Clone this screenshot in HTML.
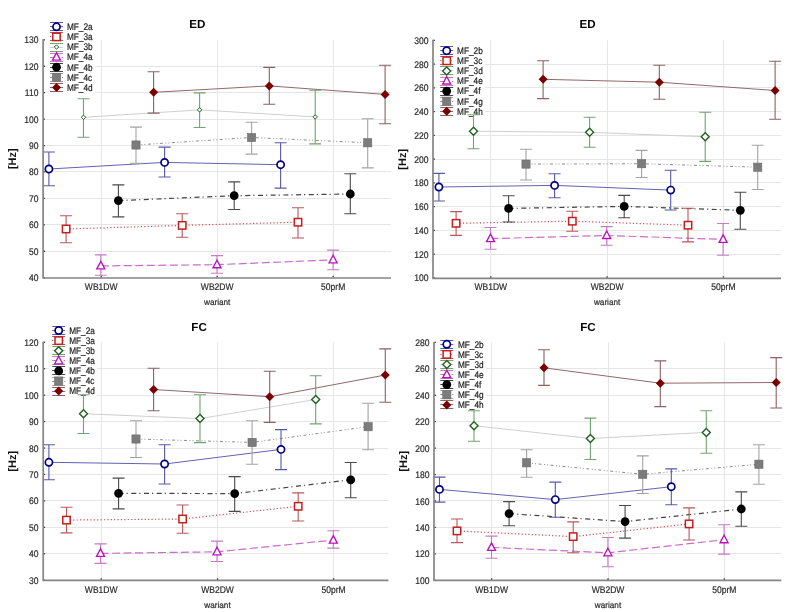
<!DOCTYPE html>
<html><head><meta charset="utf-8"><title>chart</title>
<style>html,body{margin:0;padding:0;background:#fff;}svg{display:block;will-change:transform;}text{font-family:"Liberation Sans", sans-serif;text-rendering:geometricPrecision;}</style>
</head><body>
<svg width="800" height="612" viewBox="0 0 800 612" font-family='"Liberation Sans", sans-serif'>
<rect width="800" height="612" fill="#fff"/>
<line x1="43" y1="251.50" x2="391" y2="251.50" stroke="#e6e6e6" stroke-width="1"/>
<line x1="43" y1="224.50" x2="391" y2="224.50" stroke="#e6e6e6" stroke-width="1"/>
<line x1="43" y1="198.50" x2="391" y2="198.50" stroke="#e6e6e6" stroke-width="1"/>
<line x1="43" y1="171.50" x2="391" y2="171.50" stroke="#e6e6e6" stroke-width="1"/>
<line x1="43" y1="145.50" x2="391" y2="145.50" stroke="#e6e6e6" stroke-width="1"/>
<line x1="43" y1="119.50" x2="391" y2="119.50" stroke="#e6e6e6" stroke-width="1"/>
<line x1="43" y1="92.50" x2="391" y2="92.50" stroke="#e6e6e6" stroke-width="1"/>
<line x1="43" y1="66.50" x2="391" y2="66.50" stroke="#e6e6e6" stroke-width="1"/>
<line x1="101.5" y1="39.8" x2="101.5" y2="277.7" stroke="#e6e6e6" stroke-width="1"/>
<line x1="217.5" y1="39.8" x2="217.5" y2="277.7" stroke="#e6e6e6" stroke-width="1"/>
<line x1="333.5" y1="39.8" x2="333.5" y2="277.7" stroke="#e6e6e6" stroke-width="1"/>
<text transform="translate(38.40 281.20) scale(0.89 1)" text-anchor="end" font-size="9.6" fill="#2e2e2e" stroke="#2e2e2e" stroke-width="0.22">40</text>
<line x1="43.1" y1="277.70" x2="45.0" y2="277.70" stroke="#3c3c3c" stroke-width="1.3"/>
<text transform="translate(38.40 254.77) scale(0.89 1)" text-anchor="end" font-size="9.6" fill="#2e2e2e" stroke="#2e2e2e" stroke-width="0.22">50</text>
<line x1="43.1" y1="251.27" x2="45.0" y2="251.27" stroke="#3c3c3c" stroke-width="1.3"/>
<text transform="translate(38.40 228.33) scale(0.89 1)" text-anchor="end" font-size="9.6" fill="#2e2e2e" stroke="#2e2e2e" stroke-width="0.22">60</text>
<line x1="43.1" y1="224.83" x2="45.0" y2="224.83" stroke="#3c3c3c" stroke-width="1.3"/>
<text transform="translate(38.40 201.90) scale(0.89 1)" text-anchor="end" font-size="9.6" fill="#2e2e2e" stroke="#2e2e2e" stroke-width="0.22">70</text>
<line x1="43.1" y1="198.40" x2="45.0" y2="198.40" stroke="#3c3c3c" stroke-width="1.3"/>
<text transform="translate(38.40 175.47) scale(0.89 1)" text-anchor="end" font-size="9.6" fill="#2e2e2e" stroke="#2e2e2e" stroke-width="0.22">80</text>
<line x1="43.1" y1="171.97" x2="45.0" y2="171.97" stroke="#3c3c3c" stroke-width="1.3"/>
<text transform="translate(38.40 149.03) scale(0.89 1)" text-anchor="end" font-size="9.6" fill="#2e2e2e" stroke="#2e2e2e" stroke-width="0.22">90</text>
<line x1="43.1" y1="145.53" x2="45.0" y2="145.53" stroke="#3c3c3c" stroke-width="1.3"/>
<text transform="translate(38.40 122.60) scale(0.89 1)" text-anchor="end" font-size="9.6" fill="#2e2e2e" stroke="#2e2e2e" stroke-width="0.22">100</text>
<line x1="43.1" y1="119.10" x2="45.0" y2="119.10" stroke="#3c3c3c" stroke-width="1.3"/>
<text transform="translate(38.40 96.17) scale(0.89 1)" text-anchor="end" font-size="9.6" fill="#2e2e2e" stroke="#2e2e2e" stroke-width="0.22">110</text>
<line x1="43.1" y1="92.67" x2="45.0" y2="92.67" stroke="#3c3c3c" stroke-width="1.3"/>
<text transform="translate(38.40 69.73) scale(0.89 1)" text-anchor="end" font-size="9.6" fill="#2e2e2e" stroke="#2e2e2e" stroke-width="0.22">120</text>
<line x1="43.1" y1="66.23" x2="45.0" y2="66.23" stroke="#3c3c3c" stroke-width="1.3"/>
<text transform="translate(38.40 43.30) scale(0.89 1)" text-anchor="end" font-size="9.6" fill="#2e2e2e" stroke="#2e2e2e" stroke-width="0.22">130</text>
<line x1="43.1" y1="39.80" x2="45.0" y2="39.80" stroke="#3c3c3c" stroke-width="1.3"/>
<text transform="translate(101.20 290.30) scale(0.89 1)" text-anchor="middle" font-size="9.6" fill="#2e2e2e" stroke="#2e2e2e" stroke-width="0.22">WB1DW</text>
<line x1="101.2" y1="277.5" x2="101.2" y2="275.8" stroke="#3c3c3c" stroke-width="1.3"/>
<text transform="translate(217.20 290.30) scale(0.89 1)" text-anchor="middle" font-size="9.6" fill="#2e2e2e" stroke="#2e2e2e" stroke-width="0.22">WB2DW</text>
<line x1="217.2" y1="277.5" x2="217.2" y2="275.8" stroke="#3c3c3c" stroke-width="1.3"/>
<text transform="translate(333.20 290.30) scale(0.89 1)" text-anchor="middle" font-size="9.6" fill="#2e2e2e" stroke="#2e2e2e" stroke-width="0.22">50prM</text>
<line x1="333.2" y1="277.5" x2="333.2" y2="275.8" stroke="#3c3c3c" stroke-width="1.3"/>
<text transform="translate(217.20 305.10) scale(0.95 1)" text-anchor="middle" font-size="8.6" fill="#2e2e2e" stroke="#2e2e2e" stroke-width="0.22">wariant</text>
<text transform="translate(16.2,158.7) rotate(-90)" text-anchor="middle" font-size="11" font-weight="bold" fill="#111">[Hz]</text>
<text x="197.4" y="27.7" text-anchor="middle" font-size="11.6" font-weight="bold" fill="#000">ED</text>
<rect x="46.5" y="21.3" width="48.6" height="71.6" fill="#fff"/>
<path d="M50.0 22.5H63.0M50.0 30.5H63.0" stroke="#5858a8" stroke-width="1" fill="none"/>
<path d="M50.0 26.5H63.0" stroke="#6262b4" stroke-width="1" fill="none"/>
<circle cx="56.5" cy="26.8" r="3.6" fill="#fff" stroke="#000080" stroke-width="1.7"/>
<text transform="translate(66.90 30.10) scale(0.86 1)" font-size="9.6" fill="#242424" stroke="#242424" stroke-width="0.22">MF_2a</text>
<path d="M50.0 32.5H63.0M50.0 40.5H63.0" stroke="#b85858" stroke-width="1" fill="none"/>
<path d="M50.0 36.5H63.0" stroke="#c85050" stroke-width="1" fill="none" stroke-dasharray="1.2 2.2"/>
<rect x="52.8" y="33.2" width="7.4" height="7.4" fill="#fff" stroke="#c41e1e" stroke-width="1.5"/>
<text transform="translate(66.90 40.20) scale(0.86 1)" font-size="9.6" fill="#242424" stroke="#242424" stroke-width="0.22">MF_3a</text>
<path d="M50.0 43.5H63.0M50.0 51.5H63.0" stroke="#72a472" stroke-width="1" fill="none"/>
<path d="M50.0 47.5H63.0" stroke="#cfcfcf" stroke-width="1" fill="none"/>
<path d="M56.5 44.8L58.7 47.0L56.5 49.2L54.3 47.0Z" fill="#fff" stroke="#1f621f" stroke-width="1.0"/>
<text transform="translate(66.90 50.30) scale(0.86 1)" font-size="9.6" fill="#242424" stroke="#242424" stroke-width="0.22">MF_3b</text>
<path d="M50.0 53.5H63.0M50.0 61.5H63.0" stroke="#c47cc4" stroke-width="1" fill="none"/>
<path d="M50.0 57.5H63.0" stroke="#c86ec8" stroke-width="1" fill="none" stroke-dasharray="8 3.5"/>
<path d="M56.5 52.6L60.5 60.1L52.5 60.1Z" fill="#fff" stroke="#b810b8" stroke-width="1.35" stroke-linejoin="miter"/>
<text transform="translate(66.90 60.40) scale(0.86 1)" font-size="9.6" fill="#242424" stroke="#242424" stroke-width="0.22">MF_4a</text>
<path d="M50.0 63.5H63.0M50.0 71.5H63.0" stroke="#4a4a4a" stroke-width="1" fill="none"/>
<path d="M50.0 67.5H63.0" stroke="#444444" stroke-width="1" fill="none" stroke-dasharray="5 3 1.2 3.5"/>
<circle cx="56.5" cy="67.2" r="4.4" fill="#000000"/>
<text transform="translate(66.90 70.50) scale(0.86 1)" font-size="9.6" fill="#242424" stroke="#242424" stroke-width="0.22">MF_4b</text>
<path d="M50.0 73.5H63.0M50.0 81.5H63.0" stroke="#a4a4a4" stroke-width="1" fill="none"/>
<path d="M50.0 77.5H63.0" stroke="#8c8c8c" stroke-width="1" fill="none" stroke-dasharray="3 2.5 1 2 1 2.5"/>
<rect x="52.4" y="73.2" width="8.2" height="8.2" fill="#7c7c7c" stroke="#6a6a6a" stroke-width="0.6"/>
<text transform="translate(66.90 80.60) scale(0.86 1)" font-size="9.6" fill="#242424" stroke="#242424" stroke-width="0.22">MF_4c</text>
<path d="M50.0 83.5H63.0M50.0 91.5H63.0" stroke="#8c6264" stroke-width="1" fill="none"/>
<path d="M50.0 87.5H63.0" stroke="#93686b" stroke-width="1" fill="none"/>
<path d="M56.5 82.9L61.0 87.4L56.5 91.9L52.0 87.4Z" fill="#7a0000"/>
<text transform="translate(66.90 90.70) scale(0.86 1)" font-size="9.6" fill="#242424" stroke="#242424" stroke-width="0.22">MF_4d</text>
<path d="M48.9 169.0L164.6 162.4L280.6 164.7" fill="none" stroke="#6262b4" stroke-width="1.0"/>
<path d="M66.1 229.0L182.2 225.4L298.0 222.2" fill="none" stroke="#c85050" stroke-width="1.2" stroke-dasharray="1.2 2.2"/>
<path d="M83.5 117.3L199.6 109.9L315.2 116.9" fill="none" stroke="#cfcfcf" stroke-width="1.0"/>
<path d="M100.8 265.9L217.0 264.7L333.1 259.8" fill="none" stroke="#c86ec8" stroke-width="1.2" stroke-dasharray="8 3.5"/>
<path d="M118.4 200.6L234.2 195.7L350.3 194.0" fill="none" stroke="#444444" stroke-width="1.2" stroke-dasharray="5 3 1.2 3.5"/>
<path d="M136.0 145.0L251.6 137.5L367.7 142.8" fill="none" stroke="#8c8c8c" stroke-width="1.0" stroke-dasharray="3 2.5 1 2 1 2.5"/>
<path d="M153.6 92.3L269.3 85.9L385.1 94.4" fill="none" stroke="#93686b" stroke-width="1.0"/>
<path d="M48.9 152.0L48.9 185.7M42.9 152.0L54.9 152.0M42.9 185.7L54.9 185.7" stroke="#5858a8" stroke-width="1.1" fill="none"/>
<path d="M164.6 147.1L164.6 177.0M158.6 147.1L170.6 147.1M158.6 177.0L170.6 177.0" stroke="#5858a8" stroke-width="1.1" fill="none"/>
<path d="M280.6 142.8L280.6 188.1M274.6 142.8L286.6 142.8M274.6 188.1L286.6 188.1" stroke="#5858a8" stroke-width="1.1" fill="none"/>
<path d="M66.1 215.7L66.1 242.7M60.1 215.7L72.1 215.7M60.1 242.7L72.1 242.7" stroke="#b85858" stroke-width="1.1" fill="none"/>
<path d="M182.2 213.7L182.2 237.3M176.2 213.7L188.2 213.7M176.2 237.3L188.2 237.3" stroke="#b85858" stroke-width="1.1" fill="none"/>
<path d="M298.0 207.8L298.0 238.0M292.0 207.8L304.0 207.8M292.0 238.0L304.0 238.0" stroke="#b85858" stroke-width="1.1" fill="none"/>
<path d="M83.5 98.7L83.5 137.3M77.5 98.7L89.5 98.7M77.5 137.3L89.5 137.3" stroke="#72a472" stroke-width="1.1" fill="none"/>
<path d="M199.6 92.9L199.6 127.5M193.6 92.9L205.6 92.9M193.6 127.5L205.6 127.5" stroke="#72a472" stroke-width="1.1" fill="none"/>
<path d="M315.2 90.2L315.2 143.9M309.2 90.2L321.2 90.2M309.2 143.9L321.2 143.9" stroke="#72a472" stroke-width="1.1" fill="none"/>
<path d="M100.8 254.9L100.8 275.3M94.8 254.9L106.8 254.9M94.8 275.3L106.8 275.3" stroke="#c47cc4" stroke-width="1.1" fill="none"/>
<path d="M217.0 255.6L217.0 273.2M211.0 255.6L223.0 255.6M211.0 273.2L223.0 273.2" stroke="#c47cc4" stroke-width="1.1" fill="none"/>
<path d="M333.1 250.1L333.1 269.8M327.1 250.1L339.1 250.1M327.1 269.8L339.1 269.8" stroke="#c47cc4" stroke-width="1.1" fill="none"/>
<path d="M118.4 184.9L118.4 216.9M112.4 184.9L124.4 184.9M112.4 216.9L124.4 216.9" stroke="#4a4a4a" stroke-width="1.1" fill="none"/>
<path d="M234.2 181.9L234.2 209.5M228.2 181.9L240.2 181.9M228.2 209.5L240.2 209.5" stroke="#4a4a4a" stroke-width="1.1" fill="none"/>
<path d="M350.3 173.8L350.3 213.7M344.3 173.8L356.3 173.8M344.3 213.7L356.3 213.7" stroke="#4a4a4a" stroke-width="1.1" fill="none"/>
<path d="M136.0 127.1L136.0 163.2M130.0 127.1L142.0 127.1M130.0 163.2L142.0 163.2" stroke="#a4a4a4" stroke-width="1.1" fill="none"/>
<path d="M251.6 122.2L251.6 154.1M245.6 122.2L257.6 122.2M245.6 154.1L257.6 154.1" stroke="#a4a4a4" stroke-width="1.1" fill="none"/>
<path d="M367.7 118.8L367.7 167.9M361.7 118.8L373.7 118.8M361.7 167.9L373.7 167.9" stroke="#a4a4a4" stroke-width="1.1" fill="none"/>
<path d="M153.6 71.7L153.6 113.1M147.6 71.7L159.6 71.7M147.6 113.1L159.6 113.1" stroke="#8c6264" stroke-width="1.1" fill="none"/>
<path d="M269.3 67.4L269.3 104.2M263.3 67.4L275.3 67.4M263.3 104.2L275.3 104.2" stroke="#8c6264" stroke-width="1.1" fill="none"/>
<path d="M385.1 65.3L385.1 123.7M379.1 65.3L391.1 65.3M379.1 123.7L391.1 123.7" stroke="#8c6264" stroke-width="1.1" fill="none"/>
<circle cx="48.9" cy="169.0" r="3.6" fill="#fff" stroke="#000080" stroke-width="1.7"/>
<circle cx="164.6" cy="162.4" r="3.6" fill="#fff" stroke="#000080" stroke-width="1.7"/>
<circle cx="280.6" cy="164.7" r="3.6" fill="#fff" stroke="#000080" stroke-width="1.7"/>
<rect x="62.4" y="225.3" width="7.4" height="7.4" fill="#fff" stroke="#c41e1e" stroke-width="1.5"/>
<rect x="178.5" y="221.7" width="7.4" height="7.4" fill="#fff" stroke="#c41e1e" stroke-width="1.5"/>
<rect x="294.3" y="218.5" width="7.4" height="7.4" fill="#fff" stroke="#c41e1e" stroke-width="1.5"/>
<path d="M83.5 115.1L85.7 117.3L83.5 119.5L81.3 117.3Z" fill="#fff" stroke="#1f621f" stroke-width="1.0"/>
<path d="M199.6 107.7L201.8 109.9L199.6 112.1L197.4 109.9Z" fill="#fff" stroke="#1f621f" stroke-width="1.0"/>
<path d="M315.2 114.7L317.4 116.9L315.2 119.1L313.0 116.9Z" fill="#fff" stroke="#1f621f" stroke-width="1.0"/>
<path d="M100.8 261.4L104.8 268.9L96.8 268.9Z" fill="#fff" stroke="#b810b8" stroke-width="1.35" stroke-linejoin="miter"/>
<path d="M217.0 260.2L221.0 267.7L213.0 267.7Z" fill="#fff" stroke="#b810b8" stroke-width="1.35" stroke-linejoin="miter"/>
<path d="M333.1 255.3L337.1 262.8L329.1 262.8Z" fill="#fff" stroke="#b810b8" stroke-width="1.35" stroke-linejoin="miter"/>
<circle cx="118.4" cy="200.6" r="4.4" fill="#000000"/>
<circle cx="234.2" cy="195.7" r="4.4" fill="#000000"/>
<circle cx="350.3" cy="194.0" r="4.4" fill="#000000"/>
<rect x="131.9" y="140.9" width="8.2" height="8.2" fill="#7c7c7c" stroke="#6a6a6a" stroke-width="0.6"/>
<rect x="247.5" y="133.4" width="8.2" height="8.2" fill="#7c7c7c" stroke="#6a6a6a" stroke-width="0.6"/>
<rect x="363.6" y="138.7" width="8.2" height="8.2" fill="#7c7c7c" stroke="#6a6a6a" stroke-width="0.6"/>
<path d="M153.6 87.8L158.1 92.3L153.6 96.8L149.1 92.3Z" fill="#7a0000"/>
<path d="M269.3 81.4L273.8 85.9L269.3 90.4L264.8 85.9Z" fill="#7a0000"/>
<path d="M385.1 89.9L389.6 94.4L385.1 98.9L380.6 94.4Z" fill="#7a0000"/>
<path d="M43.1 39.3L43.1 278.0L391 278.0" fill="none" stroke="#858585" stroke-width="1.7"/>
<line x1="433" y1="254.50" x2="781" y2="254.50" stroke="#e6e6e6" stroke-width="1"/>
<line x1="433" y1="230.50" x2="781" y2="230.50" stroke="#e6e6e6" stroke-width="1"/>
<line x1="433" y1="206.50" x2="781" y2="206.50" stroke="#e6e6e6" stroke-width="1"/>
<line x1="433" y1="182.50" x2="781" y2="182.50" stroke="#e6e6e6" stroke-width="1"/>
<line x1="433" y1="159.50" x2="781" y2="159.50" stroke="#e6e6e6" stroke-width="1"/>
<line x1="433" y1="135.50" x2="781" y2="135.50" stroke="#e6e6e6" stroke-width="1"/>
<line x1="433" y1="111.50" x2="781" y2="111.50" stroke="#e6e6e6" stroke-width="1"/>
<line x1="433" y1="87.50" x2="781" y2="87.50" stroke="#e6e6e6" stroke-width="1"/>
<line x1="433" y1="64.50" x2="781" y2="64.50" stroke="#e6e6e6" stroke-width="1"/>
<line x1="490.5" y1="40.3" x2="490.5" y2="277.8" stroke="#e6e6e6" stroke-width="1"/>
<line x1="607.5" y1="40.3" x2="607.5" y2="277.8" stroke="#e6e6e6" stroke-width="1"/>
<line x1="723.5" y1="40.3" x2="723.5" y2="277.8" stroke="#e6e6e6" stroke-width="1"/>
<text transform="translate(428.40 281.30) scale(0.89 1)" text-anchor="end" font-size="9.6" fill="#2e2e2e" stroke="#2e2e2e" stroke-width="0.22">100</text>
<line x1="433" y1="277.80" x2="434.9" y2="277.80" stroke="#3c3c3c" stroke-width="1.3"/>
<text transform="translate(428.40 257.55) scale(0.89 1)" text-anchor="end" font-size="9.6" fill="#2e2e2e" stroke="#2e2e2e" stroke-width="0.22">120</text>
<line x1="433" y1="254.05" x2="434.9" y2="254.05" stroke="#3c3c3c" stroke-width="1.3"/>
<text transform="translate(428.40 233.80) scale(0.89 1)" text-anchor="end" font-size="9.6" fill="#2e2e2e" stroke="#2e2e2e" stroke-width="0.22">140</text>
<line x1="433" y1="230.30" x2="434.9" y2="230.30" stroke="#3c3c3c" stroke-width="1.3"/>
<text transform="translate(428.40 210.05) scale(0.89 1)" text-anchor="end" font-size="9.6" fill="#2e2e2e" stroke="#2e2e2e" stroke-width="0.22">160</text>
<line x1="433" y1="206.55" x2="434.9" y2="206.55" stroke="#3c3c3c" stroke-width="1.3"/>
<text transform="translate(428.40 186.30) scale(0.89 1)" text-anchor="end" font-size="9.6" fill="#2e2e2e" stroke="#2e2e2e" stroke-width="0.22">180</text>
<line x1="433" y1="182.80" x2="434.9" y2="182.80" stroke="#3c3c3c" stroke-width="1.3"/>
<text transform="translate(428.40 162.55) scale(0.89 1)" text-anchor="end" font-size="9.6" fill="#2e2e2e" stroke="#2e2e2e" stroke-width="0.22">200</text>
<line x1="433" y1="159.05" x2="434.9" y2="159.05" stroke="#3c3c3c" stroke-width="1.3"/>
<text transform="translate(428.40 138.80) scale(0.89 1)" text-anchor="end" font-size="9.6" fill="#2e2e2e" stroke="#2e2e2e" stroke-width="0.22">220</text>
<line x1="433" y1="135.30" x2="434.9" y2="135.30" stroke="#3c3c3c" stroke-width="1.3"/>
<text transform="translate(428.40 115.05) scale(0.89 1)" text-anchor="end" font-size="9.6" fill="#2e2e2e" stroke="#2e2e2e" stroke-width="0.22">240</text>
<line x1="433" y1="111.55" x2="434.9" y2="111.55" stroke="#3c3c3c" stroke-width="1.3"/>
<text transform="translate(428.40 91.30) scale(0.89 1)" text-anchor="end" font-size="9.6" fill="#2e2e2e" stroke="#2e2e2e" stroke-width="0.22">260</text>
<line x1="433" y1="87.80" x2="434.9" y2="87.80" stroke="#3c3c3c" stroke-width="1.3"/>
<text transform="translate(428.40 67.55) scale(0.89 1)" text-anchor="end" font-size="9.6" fill="#2e2e2e" stroke="#2e2e2e" stroke-width="0.22">280</text>
<line x1="433" y1="64.05" x2="434.9" y2="64.05" stroke="#3c3c3c" stroke-width="1.3"/>
<text transform="translate(428.40 43.80) scale(0.89 1)" text-anchor="end" font-size="9.6" fill="#2e2e2e" stroke="#2e2e2e" stroke-width="0.22">300</text>
<line x1="433" y1="40.30" x2="434.9" y2="40.30" stroke="#3c3c3c" stroke-width="1.3"/>
<text transform="translate(490.80 290.40) scale(0.89 1)" text-anchor="middle" font-size="9.6" fill="#2e2e2e" stroke="#2e2e2e" stroke-width="0.22">WB1DW</text>
<line x1="490.8" y1="277.9" x2="490.8" y2="276.2" stroke="#3c3c3c" stroke-width="1.3"/>
<text transform="translate(607.10 290.40) scale(0.89 1)" text-anchor="middle" font-size="9.6" fill="#2e2e2e" stroke="#2e2e2e" stroke-width="0.22">WB2DW</text>
<line x1="607.1" y1="277.9" x2="607.1" y2="276.2" stroke="#3c3c3c" stroke-width="1.3"/>
<text transform="translate(723.40 290.40) scale(0.89 1)" text-anchor="middle" font-size="9.6" fill="#2e2e2e" stroke="#2e2e2e" stroke-width="0.22">50prM</text>
<line x1="723.4" y1="277.9" x2="723.4" y2="276.2" stroke="#3c3c3c" stroke-width="1.3"/>
<text transform="translate(607.10 305.20) scale(0.95 1)" text-anchor="middle" font-size="8.6" fill="#2e2e2e" stroke="#2e2e2e" stroke-width="0.22">wariant</text>
<text transform="translate(405.8,159.3) rotate(-90)" text-anchor="middle" font-size="11" font-weight="bold" fill="#111">[Hz]</text>
<text x="587.6" y="27.7" text-anchor="middle" font-size="11.6" font-weight="bold" fill="#000">ED</text>
<rect x="436.7" y="45.2" width="48.6" height="71.6" fill="#fff"/>
<path d="M440.2 46.5H453.2M440.2 54.5H453.2" stroke="#5858a8" stroke-width="1" fill="none"/>
<path d="M440.2 50.5H453.2" stroke="#6262b4" stroke-width="1" fill="none"/>
<circle cx="446.7" cy="50.7" r="3.6" fill="#fff" stroke="#000080" stroke-width="1.7"/>
<text transform="translate(457.10 54.00) scale(0.86 1)" font-size="9.6" fill="#242424" stroke="#242424" stroke-width="0.22">MF_2b</text>
<path d="M440.2 56.5H453.2M440.2 64.5H453.2" stroke="#b85858" stroke-width="1" fill="none"/>
<path d="M440.2 60.5H453.2" stroke="#c85050" stroke-width="1" fill="none" stroke-dasharray="1.2 2.2"/>
<rect x="443.0" y="57.1" width="7.4" height="7.4" fill="#fff" stroke="#c41e1e" stroke-width="1.5"/>
<text transform="translate(457.10 64.10) scale(0.86 1)" font-size="9.6" fill="#242424" stroke="#242424" stroke-width="0.22">MF_3c</text>
<path d="M440.2 66.5H453.2M440.2 74.5H453.2" stroke="#72a472" stroke-width="1" fill="none"/>
<path d="M440.2 70.5H453.2" stroke="#cfcfcf" stroke-width="1" fill="none"/>
<path d="M446.7 66.9L450.7 70.9L446.7 74.9L442.7 70.9Z" fill="#fff" stroke="#1f621f" stroke-width="1.4"/>
<text transform="translate(457.10 74.20) scale(0.86 1)" font-size="9.6" fill="#242424" stroke="#242424" stroke-width="0.22">MF_3d</text>
<path d="M440.2 77.5H453.2M440.2 85.5H453.2" stroke="#c47cc4" stroke-width="1" fill="none"/>
<path d="M440.2 81.5H453.2" stroke="#c86ec8" stroke-width="1" fill="none" stroke-dasharray="8 3.5"/>
<path d="M446.7 76.5L450.7 84.0L442.7 84.0Z" fill="#fff" stroke="#b810b8" stroke-width="1.35" stroke-linejoin="miter"/>
<text transform="translate(457.10 84.30) scale(0.86 1)" font-size="9.6" fill="#242424" stroke="#242424" stroke-width="0.22">MF_4e</text>
<path d="M440.2 87.5H453.2M440.2 95.5H453.2" stroke="#4a4a4a" stroke-width="1" fill="none"/>
<path d="M440.2 91.5H453.2" stroke="#444444" stroke-width="1" fill="none" stroke-dasharray="5 3 1.2 3.5"/>
<circle cx="446.7" cy="91.1" r="4.4" fill="#000000"/>
<text transform="translate(457.10 94.40) scale(0.86 1)" font-size="9.6" fill="#242424" stroke="#242424" stroke-width="0.22">MF_4f</text>
<path d="M440.2 97.5H453.2M440.2 105.5H453.2" stroke="#a4a4a4" stroke-width="1" fill="none"/>
<path d="M440.2 101.5H453.2" stroke="#8c8c8c" stroke-width="1" fill="none" stroke-dasharray="3 2.5 1 2 1 2.5"/>
<rect x="442.6" y="97.1" width="8.2" height="8.2" fill="#7c7c7c" stroke="#6a6a6a" stroke-width="0.6"/>
<text transform="translate(457.10 104.50) scale(0.86 1)" font-size="9.6" fill="#242424" stroke="#242424" stroke-width="0.22">MF_4g</text>
<path d="M440.2 107.5H453.2M440.2 115.5H453.2" stroke="#8c6264" stroke-width="1" fill="none"/>
<path d="M440.2 111.5H453.2" stroke="#93686b" stroke-width="1" fill="none"/>
<path d="M446.7 106.8L451.2 111.3L446.7 115.8L442.2 111.3Z" fill="#7a0000"/>
<text transform="translate(457.10 114.60) scale(0.86 1)" font-size="9.6" fill="#242424" stroke="#242424" stroke-width="0.22">MF_4h</text>
<path d="M438.9 187.0L554.6 185.4L670.7 190.1" fill="none" stroke="#6262b4" stroke-width="1.0"/>
<path d="M456.1 223.3L572.3 221.2L688.0 225.2" fill="none" stroke="#c85050" stroke-width="1.2" stroke-dasharray="1.2 2.2"/>
<path d="M473.5 131.2L589.6 132.3L705.2 136.8" fill="none" stroke="#cfcfcf" stroke-width="1.0"/>
<path d="M490.5 238.6L606.7 235.5L723.1 239.4" fill="none" stroke="#c86ec8" stroke-width="1.2" stroke-dasharray="8 3.5"/>
<path d="M508.6 208.4L624.2 206.4L740.3 210.3" fill="none" stroke="#444444" stroke-width="1.2" stroke-dasharray="5 3 1.2 3.5"/>
<path d="M526.0 164.1L641.6 163.7L757.7 167.2" fill="none" stroke="#8c8c8c" stroke-width="1.0" stroke-dasharray="3 2.5 1 2 1 2.5"/>
<path d="M543.1 79.3L659.3 82.2L775.1 90.5" fill="none" stroke="#93686b" stroke-width="1.0"/>
<path d="M438.9 173.4L438.9 201.0M432.9 173.4L444.9 173.4M432.9 201.0L444.9 201.0" stroke="#5858a8" stroke-width="1.1" fill="none"/>
<path d="M554.6 173.7L554.6 197.7M548.6 173.7L560.6 173.7M548.6 197.7L560.6 197.7" stroke="#5858a8" stroke-width="1.1" fill="none"/>
<path d="M670.7 170.2L670.7 210.0M664.7 170.2L676.7 170.2M664.7 210.0L676.7 210.0" stroke="#5858a8" stroke-width="1.1" fill="none"/>
<path d="M456.1 211.6L456.1 235.4M450.1 211.6L462.1 211.6M450.1 235.4L462.1 235.4" stroke="#b85858" stroke-width="1.1" fill="none"/>
<path d="M572.3 211.2L572.3 231.2M566.3 211.2L578.3 211.2M566.3 231.2L578.3 231.2" stroke="#b85858" stroke-width="1.1" fill="none"/>
<path d="M688.0 208.2L688.0 241.9M682.0 208.2L694.0 208.2M682.0 241.9L694.0 241.9" stroke="#b85858" stroke-width="1.1" fill="none"/>
<path d="M473.5 114.8L473.5 148.8M467.5 114.8L479.5 114.8M467.5 148.8L479.5 148.8" stroke="#72a472" stroke-width="1.1" fill="none"/>
<path d="M589.6 117.3L589.6 147.2M583.6 117.3L595.6 117.3M583.6 147.2L595.6 147.2" stroke="#72a472" stroke-width="1.1" fill="none"/>
<path d="M705.2 112.2L705.2 161.4M699.2 112.2L711.2 112.2M699.2 161.4L711.2 161.4" stroke="#72a472" stroke-width="1.1" fill="none"/>
<path d="M490.5 227.5L490.5 249.2M484.5 227.5L496.5 227.5M484.5 249.2L496.5 249.2" stroke="#c47cc4" stroke-width="1.1" fill="none"/>
<path d="M606.7 226.6L606.7 245.2M600.7 226.6L612.7 226.6M600.7 245.2L612.7 245.2" stroke="#c47cc4" stroke-width="1.1" fill="none"/>
<path d="M723.1 223.5L723.1 255.3M717.1 223.5L729.1 223.5M717.1 255.3L729.1 255.3" stroke="#c47cc4" stroke-width="1.1" fill="none"/>
<path d="M508.6 195.7L508.6 222.0M502.6 195.7L514.6 195.7M502.6 222.0L514.6 222.0" stroke="#4a4a4a" stroke-width="1.1" fill="none"/>
<path d="M624.2 195.4L624.2 217.8M618.2 195.4L630.2 195.4M618.2 217.8L630.2 217.8" stroke="#4a4a4a" stroke-width="1.1" fill="none"/>
<path d="M740.3 192.2L740.3 229.2M734.3 192.2L746.3 192.2M734.3 229.2L746.3 229.2" stroke="#4a4a4a" stroke-width="1.1" fill="none"/>
<path d="M526.0 149.2L526.0 180.0M520.0 149.2L532.0 149.2M520.0 180.0L532.0 180.0" stroke="#a4a4a4" stroke-width="1.1" fill="none"/>
<path d="M641.6 150.4L641.6 177.5M635.6 150.4L647.6 150.4M635.6 177.5L647.6 177.5" stroke="#a4a4a4" stroke-width="1.1" fill="none"/>
<path d="M757.7 145.3L757.7 189.5M751.7 145.3L763.7 145.3M751.7 189.5L763.7 189.5" stroke="#a4a4a4" stroke-width="1.1" fill="none"/>
<path d="M543.1 60.8L543.1 98.6M537.1 60.8L549.1 60.8M537.1 98.6L549.1 98.6" stroke="#8c6264" stroke-width="1.1" fill="none"/>
<path d="M659.3 65.3L659.3 99.2M653.3 65.3L665.3 65.3M653.3 99.2L665.3 99.2" stroke="#8c6264" stroke-width="1.1" fill="none"/>
<path d="M775.1 61.2L775.1 119.2M769.1 61.2L781.1 61.2M769.1 119.2L781.1 119.2" stroke="#8c6264" stroke-width="1.1" fill="none"/>
<circle cx="438.9" cy="187.0" r="3.6" fill="#fff" stroke="#000080" stroke-width="1.7"/>
<circle cx="554.6" cy="185.4" r="3.6" fill="#fff" stroke="#000080" stroke-width="1.7"/>
<circle cx="670.7" cy="190.1" r="3.6" fill="#fff" stroke="#000080" stroke-width="1.7"/>
<rect x="452.4" y="219.6" width="7.4" height="7.4" fill="#fff" stroke="#c41e1e" stroke-width="1.5"/>
<rect x="568.6" y="217.5" width="7.4" height="7.4" fill="#fff" stroke="#c41e1e" stroke-width="1.5"/>
<rect x="684.3" y="221.5" width="7.4" height="7.4" fill="#fff" stroke="#c41e1e" stroke-width="1.5"/>
<path d="M473.5 127.2L477.5 131.2L473.5 135.2L469.5 131.2Z" fill="#fff" stroke="#1f621f" stroke-width="1.4"/>
<path d="M589.6 128.3L593.6 132.3L589.6 136.3L585.6 132.3Z" fill="#fff" stroke="#1f621f" stroke-width="1.4"/>
<path d="M705.2 132.8L709.2 136.8L705.2 140.8L701.2 136.8Z" fill="#fff" stroke="#1f621f" stroke-width="1.4"/>
<path d="M490.5 234.1L494.5 241.6L486.5 241.6Z" fill="#fff" stroke="#b810b8" stroke-width="1.35" stroke-linejoin="miter"/>
<path d="M606.7 231.0L610.7 238.5L602.7 238.5Z" fill="#fff" stroke="#b810b8" stroke-width="1.35" stroke-linejoin="miter"/>
<path d="M723.1 234.9L727.1 242.4L719.1 242.4Z" fill="#fff" stroke="#b810b8" stroke-width="1.35" stroke-linejoin="miter"/>
<circle cx="508.6" cy="208.4" r="4.4" fill="#000000"/>
<circle cx="624.2" cy="206.4" r="4.4" fill="#000000"/>
<circle cx="740.3" cy="210.3" r="4.4" fill="#000000"/>
<rect x="521.9" y="160.0" width="8.2" height="8.2" fill="#7c7c7c" stroke="#6a6a6a" stroke-width="0.6"/>
<rect x="637.5" y="159.6" width="8.2" height="8.2" fill="#7c7c7c" stroke="#6a6a6a" stroke-width="0.6"/>
<rect x="753.6" y="163.1" width="8.2" height="8.2" fill="#7c7c7c" stroke="#6a6a6a" stroke-width="0.6"/>
<path d="M543.1 74.8L547.6 79.3L543.1 83.8L538.6 79.3Z" fill="#7a0000"/>
<path d="M659.3 77.7L663.8 82.2L659.3 86.7L654.8 82.2Z" fill="#7a0000"/>
<path d="M775.1 86.0L779.6 90.5L775.1 95.0L770.6 90.5Z" fill="#7a0000"/>
<path d="M433 39.8L433 278.4L781 278.4" fill="none" stroke="#858585" stroke-width="1.7"/>
<line x1="43" y1="553.50" x2="388.5" y2="553.50" stroke="#e6e6e6" stroke-width="1"/>
<line x1="43" y1="527.50" x2="388.5" y2="527.50" stroke="#e6e6e6" stroke-width="1"/>
<line x1="43" y1="500.50" x2="388.5" y2="500.50" stroke="#e6e6e6" stroke-width="1"/>
<line x1="43" y1="474.50" x2="388.5" y2="474.50" stroke="#e6e6e6" stroke-width="1"/>
<line x1="43" y1="448.50" x2="388.5" y2="448.50" stroke="#e6e6e6" stroke-width="1"/>
<line x1="43" y1="421.50" x2="388.5" y2="421.50" stroke="#e6e6e6" stroke-width="1"/>
<line x1="43" y1="395.50" x2="388.5" y2="395.50" stroke="#e6e6e6" stroke-width="1"/>
<line x1="43" y1="368.50" x2="388.5" y2="368.50" stroke="#e6e6e6" stroke-width="1"/>
<line x1="101.5" y1="342.3" x2="101.5" y2="580.2" stroke="#e6e6e6" stroke-width="1"/>
<line x1="217.5" y1="342.3" x2="217.5" y2="580.2" stroke="#e6e6e6" stroke-width="1"/>
<line x1="333.5" y1="342.3" x2="333.5" y2="580.2" stroke="#e6e6e6" stroke-width="1"/>
<text transform="translate(38.40 583.70) scale(0.89 1)" text-anchor="end" font-size="9.6" fill="#2e2e2e" stroke="#2e2e2e" stroke-width="0.22">30</text>
<line x1="43.2" y1="580.20" x2="45.1" y2="580.20" stroke="#3c3c3c" stroke-width="1.3"/>
<text transform="translate(38.40 557.27) scale(0.89 1)" text-anchor="end" font-size="9.6" fill="#2e2e2e" stroke="#2e2e2e" stroke-width="0.22">40</text>
<line x1="43.2" y1="553.77" x2="45.1" y2="553.77" stroke="#3c3c3c" stroke-width="1.3"/>
<text transform="translate(38.40 530.83) scale(0.89 1)" text-anchor="end" font-size="9.6" fill="#2e2e2e" stroke="#2e2e2e" stroke-width="0.22">50</text>
<line x1="43.2" y1="527.33" x2="45.1" y2="527.33" stroke="#3c3c3c" stroke-width="1.3"/>
<text transform="translate(38.40 504.40) scale(0.89 1)" text-anchor="end" font-size="9.6" fill="#2e2e2e" stroke="#2e2e2e" stroke-width="0.22">60</text>
<line x1="43.2" y1="500.90" x2="45.1" y2="500.90" stroke="#3c3c3c" stroke-width="1.3"/>
<text transform="translate(38.40 477.97) scale(0.89 1)" text-anchor="end" font-size="9.6" fill="#2e2e2e" stroke="#2e2e2e" stroke-width="0.22">70</text>
<line x1="43.2" y1="474.47" x2="45.1" y2="474.47" stroke="#3c3c3c" stroke-width="1.3"/>
<text transform="translate(38.40 451.53) scale(0.89 1)" text-anchor="end" font-size="9.6" fill="#2e2e2e" stroke="#2e2e2e" stroke-width="0.22">80</text>
<line x1="43.2" y1="448.03" x2="45.1" y2="448.03" stroke="#3c3c3c" stroke-width="1.3"/>
<text transform="translate(38.40 425.10) scale(0.89 1)" text-anchor="end" font-size="9.6" fill="#2e2e2e" stroke="#2e2e2e" stroke-width="0.22">90</text>
<line x1="43.2" y1="421.60" x2="45.1" y2="421.60" stroke="#3c3c3c" stroke-width="1.3"/>
<text transform="translate(38.40 398.67) scale(0.89 1)" text-anchor="end" font-size="9.6" fill="#2e2e2e" stroke="#2e2e2e" stroke-width="0.22">100</text>
<line x1="43.2" y1="395.17" x2="45.1" y2="395.17" stroke="#3c3c3c" stroke-width="1.3"/>
<text transform="translate(38.40 372.23) scale(0.89 1)" text-anchor="end" font-size="9.6" fill="#2e2e2e" stroke="#2e2e2e" stroke-width="0.22">110</text>
<line x1="43.2" y1="368.73" x2="45.1" y2="368.73" stroke="#3c3c3c" stroke-width="1.3"/>
<text transform="translate(38.40 345.80) scale(0.89 1)" text-anchor="end" font-size="9.6" fill="#2e2e2e" stroke="#2e2e2e" stroke-width="0.22">120</text>
<line x1="43.2" y1="342.30" x2="45.1" y2="342.30" stroke="#3c3c3c" stroke-width="1.3"/>
<text transform="translate(101.20 592.80) scale(0.89 1)" text-anchor="middle" font-size="9.6" fill="#2e2e2e" stroke="#2e2e2e" stroke-width="0.22">WB1DW</text>
<line x1="101.2" y1="579.9" x2="101.2" y2="578.1999999999999" stroke="#3c3c3c" stroke-width="1.3"/>
<text transform="translate(217.50 592.80) scale(0.89 1)" text-anchor="middle" font-size="9.6" fill="#2e2e2e" stroke="#2e2e2e" stroke-width="0.22">WB2DW</text>
<line x1="217.5" y1="579.9" x2="217.5" y2="578.1999999999999" stroke="#3c3c3c" stroke-width="1.3"/>
<text transform="translate(333.60 592.80) scale(0.89 1)" text-anchor="middle" font-size="9.6" fill="#2e2e2e" stroke="#2e2e2e" stroke-width="0.22">50prM</text>
<line x1="333.6" y1="579.9" x2="333.6" y2="578.1999999999999" stroke="#3c3c3c" stroke-width="1.3"/>
<text transform="translate(217.50 607.60) scale(0.95 1)" text-anchor="middle" font-size="8.6" fill="#2e2e2e" stroke="#2e2e2e" stroke-width="0.22">wariant</text>
<text transform="translate(16.4,461.2) rotate(-90)" text-anchor="middle" font-size="11" font-weight="bold" fill="#111">[Hz]</text>
<text x="199.1" y="330.5" text-anchor="middle" font-size="11.6" font-weight="bold" fill="#000">FC</text>
<rect x="48.7" y="325.0" width="48.7" height="71.6" fill="#fff"/>
<path d="M52.2 326.5H65.2M52.2 334.5H65.2" stroke="#5858a8" stroke-width="1" fill="none"/>
<path d="M52.2 330.5H65.2" stroke="#6262b4" stroke-width="1" fill="none"/>
<circle cx="58.7" cy="330.5" r="3.6" fill="#fff" stroke="#000080" stroke-width="1.7"/>
<text transform="translate(69.20 333.80) scale(0.86 1)" font-size="9.6" fill="#242424" stroke="#242424" stroke-width="0.22">MF_2a</text>
<path d="M52.2 336.5H65.2M52.2 344.5H65.2" stroke="#b85858" stroke-width="1" fill="none"/>
<path d="M52.2 340.5H65.2" stroke="#c85050" stroke-width="1" fill="none" stroke-dasharray="1.2 2.2"/>
<rect x="55.0" y="336.9" width="7.4" height="7.4" fill="#fff" stroke="#c41e1e" stroke-width="1.5"/>
<text transform="translate(69.20 343.90) scale(0.86 1)" font-size="9.6" fill="#242424" stroke="#242424" stroke-width="0.22">MF_3a</text>
<path d="M52.2 346.5H65.2M52.2 354.5H65.2" stroke="#72a472" stroke-width="1" fill="none"/>
<path d="M52.2 350.5H65.2" stroke="#cfcfcf" stroke-width="1" fill="none"/>
<path d="M58.7 346.7L62.7 350.7L58.7 354.7L54.7 350.7Z" fill="#fff" stroke="#1f621f" stroke-width="1.4"/>
<text transform="translate(69.20 354.00) scale(0.86 1)" font-size="9.6" fill="#242424" stroke="#242424" stroke-width="0.22">MF_3b</text>
<path d="M52.2 356.5H65.2M52.2 364.5H65.2" stroke="#c47cc4" stroke-width="1" fill="none"/>
<path d="M52.2 360.5H65.2" stroke="#c86ec8" stroke-width="1" fill="none" stroke-dasharray="8 3.5"/>
<path d="M58.7 356.3L62.7 363.8L54.7 363.8Z" fill="#fff" stroke="#b810b8" stroke-width="1.35" stroke-linejoin="miter"/>
<text transform="translate(69.20 364.10) scale(0.86 1)" font-size="9.6" fill="#242424" stroke="#242424" stroke-width="0.22">MF_4a</text>
<path d="M52.2 366.5H65.2M52.2 374.5H65.2" stroke="#4a4a4a" stroke-width="1" fill="none"/>
<path d="M52.2 370.5H65.2" stroke="#444444" stroke-width="1" fill="none" stroke-dasharray="5 3 1.2 3.5"/>
<circle cx="58.7" cy="370.9" r="4.4" fill="#000000"/>
<text transform="translate(69.20 374.20) scale(0.86 1)" font-size="9.6" fill="#242424" stroke="#242424" stroke-width="0.22">MF_4b</text>
<path d="M52.2 377.5H65.2M52.2 385.5H65.2" stroke="#a4a4a4" stroke-width="1" fill="none"/>
<path d="M52.2 381.5H65.2" stroke="#8c8c8c" stroke-width="1" fill="none" stroke-dasharray="3 2.5 1 2 1 2.5"/>
<rect x="54.6" y="376.9" width="8.2" height="8.2" fill="#7c7c7c" stroke="#6a6a6a" stroke-width="0.6"/>
<text transform="translate(69.20 384.30) scale(0.86 1)" font-size="9.6" fill="#242424" stroke="#242424" stroke-width="0.22">MF_4c</text>
<path d="M52.2 387.5H65.2M52.2 395.5H65.2" stroke="#8c6264" stroke-width="1" fill="none"/>
<path d="M52.2 391.5H65.2" stroke="#93686b" stroke-width="1" fill="none"/>
<path d="M58.7 386.6L63.2 391.1L58.7 395.6L54.2 391.1Z" fill="#7a0000"/>
<text transform="translate(69.20 394.40) scale(0.86 1)" font-size="9.6" fill="#242424" stroke="#242424" stroke-width="0.22">MF_4d</text>
<path d="M48.9 462.3L164.6 464.0L281.0 449.4" fill="none" stroke="#6262b4" stroke-width="1.0"/>
<path d="M66.5 520.1L182.6 519.0L298.2 506.3" fill="none" stroke="#c85050" stroke-width="1.2" stroke-dasharray="1.2 2.2"/>
<path d="M83.5 413.7L200.0 418.6L315.7 399.5" fill="none" stroke="#cfcfcf" stroke-width="1.0"/>
<path d="M100.5 553.4L217.0 551.8L333.3 540.1" fill="none" stroke="#c86ec8" stroke-width="1.2" stroke-dasharray="8 3.5"/>
<path d="M118.6 493.3L234.7 493.6L350.7 479.8" fill="none" stroke="#444444" stroke-width="1.2" stroke-dasharray="5 3 1.2 3.5"/>
<path d="M136.0 439.0L252.1 442.4L368.1 426.7" fill="none" stroke="#8c8c8c" stroke-width="1.0" stroke-dasharray="3 2.5 1 2 1 2.5"/>
<path d="M153.6 389.5L269.7 396.7L385.3 375.0" fill="none" stroke="#93686b" stroke-width="1.0"/>
<path d="M48.9 444.7L48.9 479.8M42.9 444.7L54.9 444.7M42.9 479.8L54.9 479.8" stroke="#5858a8" stroke-width="1.1" fill="none"/>
<path d="M164.6 444.7L164.6 484.0M158.6 444.7L170.6 444.7M158.6 484.0L170.6 484.0" stroke="#5858a8" stroke-width="1.1" fill="none"/>
<path d="M281.0 429.6L281.0 469.6M275.0 429.6L287.0 429.6M275.0 469.6L287.0 469.6" stroke="#5858a8" stroke-width="1.1" fill="none"/>
<path d="M66.5 507.2L66.5 532.9M60.5 507.2L72.5 507.2M60.5 532.9L72.5 532.9" stroke="#b85858" stroke-width="1.1" fill="none"/>
<path d="M182.6 505.0L182.6 533.3M176.6 505.0L188.6 505.0M176.6 533.3L188.6 533.3" stroke="#b85858" stroke-width="1.1" fill="none"/>
<path d="M298.2 492.9L298.2 521.0M292.2 492.9L304.2 492.9M292.2 521.0L304.2 521.0" stroke="#b85858" stroke-width="1.1" fill="none"/>
<path d="M83.5 394.8L83.5 433.5M77.5 394.8L89.5 394.8M77.5 433.5L89.5 433.5" stroke="#72a472" stroke-width="1.1" fill="none"/>
<path d="M200.0 394.8L200.0 442.6M194.0 394.8L206.0 394.8M194.0 442.6L206.0 442.6" stroke="#72a472" stroke-width="1.1" fill="none"/>
<path d="M315.7 375.7L315.7 423.9M309.7 375.7L321.7 375.7M309.7 423.9L321.7 423.9" stroke="#72a472" stroke-width="1.1" fill="none"/>
<path d="M100.5 543.9L100.5 563.4M94.5 543.9L106.5 543.9M94.5 563.4L106.5 563.4" stroke="#c47cc4" stroke-width="1.1" fill="none"/>
<path d="M217.0 541.1L217.0 561.5M211.0 541.1L223.0 541.1M211.0 561.5L223.0 561.5" stroke="#c47cc4" stroke-width="1.1" fill="none"/>
<path d="M333.3 530.7L333.3 548.1M327.3 530.7L339.3 530.7M327.3 548.1L339.3 548.1" stroke="#c47cc4" stroke-width="1.1" fill="none"/>
<path d="M118.6 478.1L118.6 508.9M112.6 478.1L124.6 478.1M112.6 508.9L124.6 508.9" stroke="#4a4a4a" stroke-width="1.1" fill="none"/>
<path d="M234.7 476.6L234.7 511.4M228.7 476.6L240.7 476.6M228.7 511.4L240.7 511.4" stroke="#4a4a4a" stroke-width="1.1" fill="none"/>
<path d="M350.7 462.5L350.7 497.8M344.7 462.5L356.7 462.5M344.7 497.8L356.7 497.8" stroke="#4a4a4a" stroke-width="1.1" fill="none"/>
<path d="M136.0 420.7L136.0 457.5M130.0 420.7L142.0 420.7M130.0 457.5L142.0 457.5" stroke="#a4a4a4" stroke-width="1.1" fill="none"/>
<path d="M252.1 420.7L252.1 464.3M246.1 420.7L258.1 420.7M246.1 464.3L258.1 464.3" stroke="#a4a4a4" stroke-width="1.1" fill="none"/>
<path d="M368.1 403.3L368.1 449.8M362.1 403.3L374.1 403.3M362.1 449.8L374.1 449.8" stroke="#a4a4a4" stroke-width="1.1" fill="none"/>
<path d="M153.6 368.2L153.6 410.7M147.6 368.2L159.6 368.2M147.6 410.7L159.6 410.7" stroke="#8c6264" stroke-width="1.1" fill="none"/>
<path d="M269.7 371.2L269.7 422.4M263.7 371.2L275.7 371.2M263.7 422.4L275.7 422.4" stroke="#8c6264" stroke-width="1.1" fill="none"/>
<path d="M385.3 348.9L385.3 402.2M379.3 348.9L391.3 348.9M379.3 402.2L391.3 402.2" stroke="#8c6264" stroke-width="1.1" fill="none"/>
<circle cx="48.9" cy="462.3" r="3.6" fill="#fff" stroke="#000080" stroke-width="1.7"/>
<circle cx="164.6" cy="464.0" r="3.6" fill="#fff" stroke="#000080" stroke-width="1.7"/>
<circle cx="281.0" cy="449.4" r="3.6" fill="#fff" stroke="#000080" stroke-width="1.7"/>
<rect x="62.8" y="516.4" width="7.4" height="7.4" fill="#fff" stroke="#c41e1e" stroke-width="1.5"/>
<rect x="178.9" y="515.3" width="7.4" height="7.4" fill="#fff" stroke="#c41e1e" stroke-width="1.5"/>
<rect x="294.5" y="502.6" width="7.4" height="7.4" fill="#fff" stroke="#c41e1e" stroke-width="1.5"/>
<path d="M83.5 409.7L87.5 413.7L83.5 417.7L79.5 413.7Z" fill="#fff" stroke="#1f621f" stroke-width="1.4"/>
<path d="M200.0 414.6L204.0 418.6L200.0 422.6L196.0 418.6Z" fill="#fff" stroke="#1f621f" stroke-width="1.4"/>
<path d="M315.7 395.5L319.7 399.5L315.7 403.5L311.7 399.5Z" fill="#fff" stroke="#1f621f" stroke-width="1.4"/>
<path d="M100.5 548.9L104.5 556.4L96.5 556.4Z" fill="#fff" stroke="#b810b8" stroke-width="1.35" stroke-linejoin="miter"/>
<path d="M217.0 547.3L221.0 554.8L213.0 554.8Z" fill="#fff" stroke="#b810b8" stroke-width="1.35" stroke-linejoin="miter"/>
<path d="M333.3 535.6L337.3 543.1L329.3 543.1Z" fill="#fff" stroke="#b810b8" stroke-width="1.35" stroke-linejoin="miter"/>
<circle cx="118.6" cy="493.3" r="4.4" fill="#000000"/>
<circle cx="234.7" cy="493.6" r="4.4" fill="#000000"/>
<circle cx="350.7" cy="479.8" r="4.4" fill="#000000"/>
<rect x="131.9" y="434.9" width="8.2" height="8.2" fill="#7c7c7c" stroke="#6a6a6a" stroke-width="0.6"/>
<rect x="248.0" y="438.3" width="8.2" height="8.2" fill="#7c7c7c" stroke="#6a6a6a" stroke-width="0.6"/>
<rect x="364.0" y="422.6" width="8.2" height="8.2" fill="#7c7c7c" stroke="#6a6a6a" stroke-width="0.6"/>
<path d="M153.6 385.0L158.1 389.5L153.6 394.0L149.1 389.5Z" fill="#7a0000"/>
<path d="M269.7 392.2L274.2 396.7L269.7 401.2L265.2 396.7Z" fill="#7a0000"/>
<path d="M385.3 370.5L389.8 375.0L385.3 379.5L380.8 375.0Z" fill="#7a0000"/>
<path d="M43.2 341.8L43.2 580.4L388.5 580.4" fill="none" stroke="#858585" stroke-width="1.7"/>
<line x1="434" y1="553.50" x2="781.3" y2="553.50" stroke="#e6e6e6" stroke-width="1"/>
<line x1="434" y1="527.50" x2="781.3" y2="527.50" stroke="#e6e6e6" stroke-width="1"/>
<line x1="434" y1="500.50" x2="781.3" y2="500.50" stroke="#e6e6e6" stroke-width="1"/>
<line x1="434" y1="474.50" x2="781.3" y2="474.50" stroke="#e6e6e6" stroke-width="1"/>
<line x1="434" y1="448.50" x2="781.3" y2="448.50" stroke="#e6e6e6" stroke-width="1"/>
<line x1="434" y1="421.50" x2="781.3" y2="421.50" stroke="#e6e6e6" stroke-width="1"/>
<line x1="434" y1="395.50" x2="781.3" y2="395.50" stroke="#e6e6e6" stroke-width="1"/>
<line x1="434" y1="368.50" x2="781.3" y2="368.50" stroke="#e6e6e6" stroke-width="1"/>
<line x1="491.5" y1="342.4" x2="491.5" y2="580.3" stroke="#e6e6e6" stroke-width="1"/>
<line x1="608.5" y1="342.4" x2="608.5" y2="580.3" stroke="#e6e6e6" stroke-width="1"/>
<line x1="724.5" y1="342.4" x2="724.5" y2="580.3" stroke="#e6e6e6" stroke-width="1"/>
<text transform="translate(429.40 583.80) scale(0.89 1)" text-anchor="end" font-size="9.6" fill="#2e2e2e" stroke="#2e2e2e" stroke-width="0.22">100</text>
<line x1="434" y1="580.30" x2="435.9" y2="580.30" stroke="#3c3c3c" stroke-width="1.3"/>
<text transform="translate(429.40 557.37) scale(0.89 1)" text-anchor="end" font-size="9.6" fill="#2e2e2e" stroke="#2e2e2e" stroke-width="0.22">120</text>
<line x1="434" y1="553.87" x2="435.9" y2="553.87" stroke="#3c3c3c" stroke-width="1.3"/>
<text transform="translate(429.40 530.93) scale(0.89 1)" text-anchor="end" font-size="9.6" fill="#2e2e2e" stroke="#2e2e2e" stroke-width="0.22">140</text>
<line x1="434" y1="527.43" x2="435.9" y2="527.43" stroke="#3c3c3c" stroke-width="1.3"/>
<text transform="translate(429.40 504.50) scale(0.89 1)" text-anchor="end" font-size="9.6" fill="#2e2e2e" stroke="#2e2e2e" stroke-width="0.22">160</text>
<line x1="434" y1="501.00" x2="435.9" y2="501.00" stroke="#3c3c3c" stroke-width="1.3"/>
<text transform="translate(429.40 478.07) scale(0.89 1)" text-anchor="end" font-size="9.6" fill="#2e2e2e" stroke="#2e2e2e" stroke-width="0.22">180</text>
<line x1="434" y1="474.57" x2="435.9" y2="474.57" stroke="#3c3c3c" stroke-width="1.3"/>
<text transform="translate(429.40 451.63) scale(0.89 1)" text-anchor="end" font-size="9.6" fill="#2e2e2e" stroke="#2e2e2e" stroke-width="0.22">200</text>
<line x1="434" y1="448.13" x2="435.9" y2="448.13" stroke="#3c3c3c" stroke-width="1.3"/>
<text transform="translate(429.40 425.20) scale(0.89 1)" text-anchor="end" font-size="9.6" fill="#2e2e2e" stroke="#2e2e2e" stroke-width="0.22">220</text>
<line x1="434" y1="421.70" x2="435.9" y2="421.70" stroke="#3c3c3c" stroke-width="1.3"/>
<text transform="translate(429.40 398.77) scale(0.89 1)" text-anchor="end" font-size="9.6" fill="#2e2e2e" stroke="#2e2e2e" stroke-width="0.22">240</text>
<line x1="434" y1="395.27" x2="435.9" y2="395.27" stroke="#3c3c3c" stroke-width="1.3"/>
<text transform="translate(429.40 372.33) scale(0.89 1)" text-anchor="end" font-size="9.6" fill="#2e2e2e" stroke="#2e2e2e" stroke-width="0.22">260</text>
<line x1="434" y1="368.83" x2="435.9" y2="368.83" stroke="#3c3c3c" stroke-width="1.3"/>
<text transform="translate(429.40 345.90) scale(0.89 1)" text-anchor="end" font-size="9.6" fill="#2e2e2e" stroke="#2e2e2e" stroke-width="0.22">280</text>
<line x1="434" y1="342.40" x2="435.9" y2="342.40" stroke="#3c3c3c" stroke-width="1.3"/>
<text transform="translate(491.60 592.90) scale(0.89 1)" text-anchor="middle" font-size="9.6" fill="#2e2e2e" stroke="#2e2e2e" stroke-width="0.22">WB1DW</text>
<line x1="491.6" y1="579.9" x2="491.6" y2="578.1999999999999" stroke="#3c3c3c" stroke-width="1.3"/>
<text transform="translate(608.00 592.90) scale(0.89 1)" text-anchor="middle" font-size="9.6" fill="#2e2e2e" stroke="#2e2e2e" stroke-width="0.22">WB2DW</text>
<line x1="608.0" y1="579.9" x2="608.0" y2="578.1999999999999" stroke="#3c3c3c" stroke-width="1.3"/>
<text transform="translate(724.30 592.90) scale(0.89 1)" text-anchor="middle" font-size="9.6" fill="#2e2e2e" stroke="#2e2e2e" stroke-width="0.22">50prM</text>
<line x1="724.3" y1="579.9" x2="724.3" y2="578.1999999999999" stroke="#3c3c3c" stroke-width="1.3"/>
<text transform="translate(608.00 607.70) scale(0.95 1)" text-anchor="middle" font-size="8.6" fill="#2e2e2e" stroke="#2e2e2e" stroke-width="0.22">wariant</text>
<text transform="translate(407.0,461.2) rotate(-90)" text-anchor="middle" font-size="11" font-weight="bold" fill="#111">[Hz]</text>
<text x="588" y="330.6" text-anchor="middle" font-size="11.6" font-weight="bold" fill="#000">FC</text>
<rect x="436.8" y="338.8" width="49.3" height="71.6" fill="#fff"/>
<path d="M440.3 340.5H453.3M440.3 348.5H453.3" stroke="#5858a8" stroke-width="1" fill="none"/>
<path d="M440.3 344.5H453.3" stroke="#6262b4" stroke-width="1" fill="none"/>
<circle cx="446.8" cy="344.3" r="3.6" fill="#fff" stroke="#000080" stroke-width="1.7"/>
<text transform="translate(457.90 347.60) scale(0.86 1)" font-size="9.6" fill="#242424" stroke="#242424" stroke-width="0.22">MF_2b</text>
<path d="M440.3 350.5H453.3M440.3 358.5H453.3" stroke="#b85858" stroke-width="1" fill="none"/>
<path d="M440.3 354.5H453.3" stroke="#c85050" stroke-width="1" fill="none" stroke-dasharray="1.2 2.2"/>
<rect x="443.1" y="350.7" width="7.4" height="7.4" fill="#fff" stroke="#c41e1e" stroke-width="1.5"/>
<text transform="translate(457.90 357.70) scale(0.86 1)" font-size="9.6" fill="#242424" stroke="#242424" stroke-width="0.22">MF_3c</text>
<path d="M440.3 360.5H453.3M440.3 368.5H453.3" stroke="#72a472" stroke-width="1" fill="none"/>
<path d="M440.3 364.5H453.3" stroke="#cfcfcf" stroke-width="1" fill="none"/>
<path d="M446.8 360.5L450.8 364.5L446.8 368.5L442.8 364.5Z" fill="#fff" stroke="#1f621f" stroke-width="1.4"/>
<text transform="translate(457.90 367.80) scale(0.86 1)" font-size="9.6" fill="#242424" stroke="#242424" stroke-width="0.22">MF_3d</text>
<path d="M440.3 370.5H453.3M440.3 378.5H453.3" stroke="#c47cc4" stroke-width="1" fill="none"/>
<path d="M440.3 374.5H453.3" stroke="#c86ec8" stroke-width="1" fill="none" stroke-dasharray="8 3.5"/>
<path d="M446.8 370.1L450.8 377.6L442.8 377.6Z" fill="#fff" stroke="#b810b8" stroke-width="1.35" stroke-linejoin="miter"/>
<text transform="translate(457.90 377.90) scale(0.86 1)" font-size="9.6" fill="#242424" stroke="#242424" stroke-width="0.22">MF_4e</text>
<path d="M440.3 380.5H453.3M440.3 388.5H453.3" stroke="#4a4a4a" stroke-width="1" fill="none"/>
<path d="M440.3 384.5H453.3" stroke="#444444" stroke-width="1" fill="none" stroke-dasharray="5 3 1.2 3.5"/>
<circle cx="446.8" cy="384.7" r="4.4" fill="#000000"/>
<text transform="translate(457.90 388.00) scale(0.86 1)" font-size="9.6" fill="#242424" stroke="#242424" stroke-width="0.22">MF_4f</text>
<path d="M440.3 390.5H453.3M440.3 398.5H453.3" stroke="#a4a4a4" stroke-width="1" fill="none"/>
<path d="M440.3 394.5H453.3" stroke="#8c8c8c" stroke-width="1" fill="none" stroke-dasharray="3 2.5 1 2 1 2.5"/>
<rect x="442.7" y="390.7" width="8.2" height="8.2" fill="#7c7c7c" stroke="#6a6a6a" stroke-width="0.6"/>
<text transform="translate(457.90 398.10) scale(0.86 1)" font-size="9.6" fill="#242424" stroke="#242424" stroke-width="0.22">MF_4g</text>
<path d="M440.3 400.5H453.3M440.3 408.5H453.3" stroke="#8c6264" stroke-width="1" fill="none"/>
<path d="M440.3 404.5H453.3" stroke="#93686b" stroke-width="1" fill="none"/>
<path d="M446.8 400.4L451.3 404.9L446.8 409.4L442.3 404.9Z" fill="#7a0000"/>
<text transform="translate(457.90 408.20) scale(0.86 1)" font-size="9.6" fill="#242424" stroke="#242424" stroke-width="0.22">MF_4h</text>
<path d="M439.5 489.4L555.3 499.6L671.3 486.7" fill="none" stroke="#6262b4" stroke-width="1.0"/>
<path d="M457.0 530.9L573.2 536.6L689.1 523.9" fill="none" stroke="#c85050" stroke-width="1.2" stroke-dasharray="1.2 2.2"/>
<path d="M474.0 425.7L590.4 438.5L706.3 432.4" fill="none" stroke="#cfcfcf" stroke-width="1.0"/>
<path d="M491.5 547.4L607.9 552.8L724.1 539.7" fill="none" stroke="#c86ec8" stroke-width="1.2" stroke-dasharray="8 3.5"/>
<path d="M509.1 513.6L625.1 521.6L741.3 509.0" fill="none" stroke="#444444" stroke-width="1.2" stroke-dasharray="5 3 1.2 3.5"/>
<path d="M526.6 462.8L642.7 474.3L758.9 464.2" fill="none" stroke="#8c8c8c" stroke-width="1.0" stroke-dasharray="3 2.5 1 2 1 2.5"/>
<path d="M544.0 367.8L660.3 383.2L776.2 382.5" fill="none" stroke="#93686b" stroke-width="1.0"/>
<path d="M439.5 477.1L439.5 502.1M433.5 477.1L445.5 477.1M433.5 502.1L445.5 502.1" stroke="#5858a8" stroke-width="1.1" fill="none"/>
<path d="M555.3 482.1L555.3 517.2M549.3 482.1L561.3 482.1M549.3 517.2L561.3 517.2" stroke="#5858a8" stroke-width="1.1" fill="none"/>
<path d="M671.3 468.9L671.3 504.8M665.3 468.9L677.3 468.9M665.3 504.8L677.3 504.8" stroke="#5858a8" stroke-width="1.1" fill="none"/>
<path d="M457.0 519.0L457.0 542.6M451.0 519.0L463.0 519.0M451.0 542.6L463.0 542.6" stroke="#b85858" stroke-width="1.1" fill="none"/>
<path d="M573.2 521.9L573.2 552.8M567.2 521.9L579.2 521.9M567.2 552.8L579.2 552.8" stroke="#b85858" stroke-width="1.1" fill="none"/>
<path d="M689.1 507.9L689.1 540.0M683.1 507.9L695.1 507.9M683.1 540.0L695.1 540.0" stroke="#b85858" stroke-width="1.1" fill="none"/>
<path d="M474.0 410.8L474.0 441.2M468.0 410.8L480.0 410.8M468.0 441.2L480.0 441.2" stroke="#72a472" stroke-width="1.1" fill="none"/>
<path d="M590.4 418.1L590.4 459.5M584.4 418.1L596.4 418.1M584.4 459.5L596.4 459.5" stroke="#72a472" stroke-width="1.1" fill="none"/>
<path d="M706.3 410.7L706.3 453.2M700.3 410.7L712.3 410.7M700.3 453.2L712.3 453.2" stroke="#72a472" stroke-width="1.1" fill="none"/>
<path d="M491.5 536.1L491.5 558.2M485.5 536.1L497.5 536.1M485.5 558.2L497.5 558.2" stroke="#c47cc4" stroke-width="1.1" fill="none"/>
<path d="M607.9 537.5L607.9 566.8M601.9 537.5L613.9 537.5M601.9 566.8L613.9 566.8" stroke="#c47cc4" stroke-width="1.1" fill="none"/>
<path d="M724.1 524.8L724.1 554.1M718.1 524.8L730.1 524.8M718.1 554.1L730.1 554.1" stroke="#c47cc4" stroke-width="1.1" fill="none"/>
<path d="M509.1 501.6L509.1 525.8M503.1 501.6L515.1 501.6M503.1 525.8L515.1 525.8" stroke="#4a4a4a" stroke-width="1.1" fill="none"/>
<path d="M625.1 505.5L625.1 538.1M619.1 505.5L631.1 505.5M619.1 538.1L631.1 538.1" stroke="#4a4a4a" stroke-width="1.1" fill="none"/>
<path d="M741.3 491.9L741.3 526.2M735.3 491.9L747.3 491.9M735.3 526.2L747.3 526.2" stroke="#4a4a4a" stroke-width="1.1" fill="none"/>
<path d="M526.6 449.7L526.6 477.3M520.6 449.7L532.6 449.7M520.6 477.3L532.6 477.3" stroke="#a4a4a4" stroke-width="1.1" fill="none"/>
<path d="M642.7 455.9L642.7 493.5M636.7 455.9L648.7 455.9M636.7 493.5L648.7 493.5" stroke="#a4a4a4" stroke-width="1.1" fill="none"/>
<path d="M758.9 444.7L758.9 484.3M752.9 444.7L764.9 444.7M752.9 484.3L764.9 484.3" stroke="#a4a4a4" stroke-width="1.1" fill="none"/>
<path d="M544.0 349.7L544.0 385.4M538.0 349.7L550.0 349.7M538.0 385.4L550.0 385.4" stroke="#8c6264" stroke-width="1.1" fill="none"/>
<path d="M660.3 360.9L660.3 406.6M654.3 360.9L666.3 360.9M654.3 406.6L666.3 406.6" stroke="#8c6264" stroke-width="1.1" fill="none"/>
<path d="M776.2 357.6L776.2 408.0M770.2 357.6L782.2 357.6M770.2 408.0L782.2 408.0" stroke="#8c6264" stroke-width="1.1" fill="none"/>
<circle cx="439.5" cy="489.4" r="3.6" fill="#fff" stroke="#000080" stroke-width="1.7"/>
<circle cx="555.3" cy="499.6" r="3.6" fill="#fff" stroke="#000080" stroke-width="1.7"/>
<circle cx="671.3" cy="486.7" r="3.6" fill="#fff" stroke="#000080" stroke-width="1.7"/>
<rect x="453.3" y="527.2" width="7.4" height="7.4" fill="#fff" stroke="#c41e1e" stroke-width="1.5"/>
<rect x="569.5" y="532.9" width="7.4" height="7.4" fill="#fff" stroke="#c41e1e" stroke-width="1.5"/>
<rect x="685.4" y="520.2" width="7.4" height="7.4" fill="#fff" stroke="#c41e1e" stroke-width="1.5"/>
<path d="M474.0 421.7L478.0 425.7L474.0 429.7L470.0 425.7Z" fill="#fff" stroke="#1f621f" stroke-width="1.4"/>
<path d="M590.4 434.5L594.4 438.5L590.4 442.5L586.4 438.5Z" fill="#fff" stroke="#1f621f" stroke-width="1.4"/>
<path d="M706.3 428.4L710.3 432.4L706.3 436.4L702.3 432.4Z" fill="#fff" stroke="#1f621f" stroke-width="1.4"/>
<path d="M491.5 542.9L495.5 550.4L487.5 550.4Z" fill="#fff" stroke="#b810b8" stroke-width="1.35" stroke-linejoin="miter"/>
<path d="M607.9 548.3L611.9 555.8L603.9 555.8Z" fill="#fff" stroke="#b810b8" stroke-width="1.35" stroke-linejoin="miter"/>
<path d="M724.1 535.2L728.1 542.7L720.1 542.7Z" fill="#fff" stroke="#b810b8" stroke-width="1.35" stroke-linejoin="miter"/>
<circle cx="509.1" cy="513.6" r="4.4" fill="#000000"/>
<circle cx="625.1" cy="521.6" r="4.4" fill="#000000"/>
<circle cx="741.3" cy="509.0" r="4.4" fill="#000000"/>
<rect x="522.5" y="458.7" width="8.2" height="8.2" fill="#7c7c7c" stroke="#6a6a6a" stroke-width="0.6"/>
<rect x="638.6" y="470.2" width="8.2" height="8.2" fill="#7c7c7c" stroke="#6a6a6a" stroke-width="0.6"/>
<rect x="754.8" y="460.1" width="8.2" height="8.2" fill="#7c7c7c" stroke="#6a6a6a" stroke-width="0.6"/>
<path d="M544.0 363.3L548.5 367.8L544.0 372.3L539.5 367.8Z" fill="#7a0000"/>
<path d="M660.3 378.7L664.8 383.2L660.3 387.7L655.8 383.2Z" fill="#7a0000"/>
<path d="M776.2 378.0L780.7 382.5L776.2 387.0L771.7 382.5Z" fill="#7a0000"/>
<path d="M434 341.9L434 580.4L781.3 580.4" fill="none" stroke="#858585" stroke-width="1.7"/>
</svg>
</body></html>
